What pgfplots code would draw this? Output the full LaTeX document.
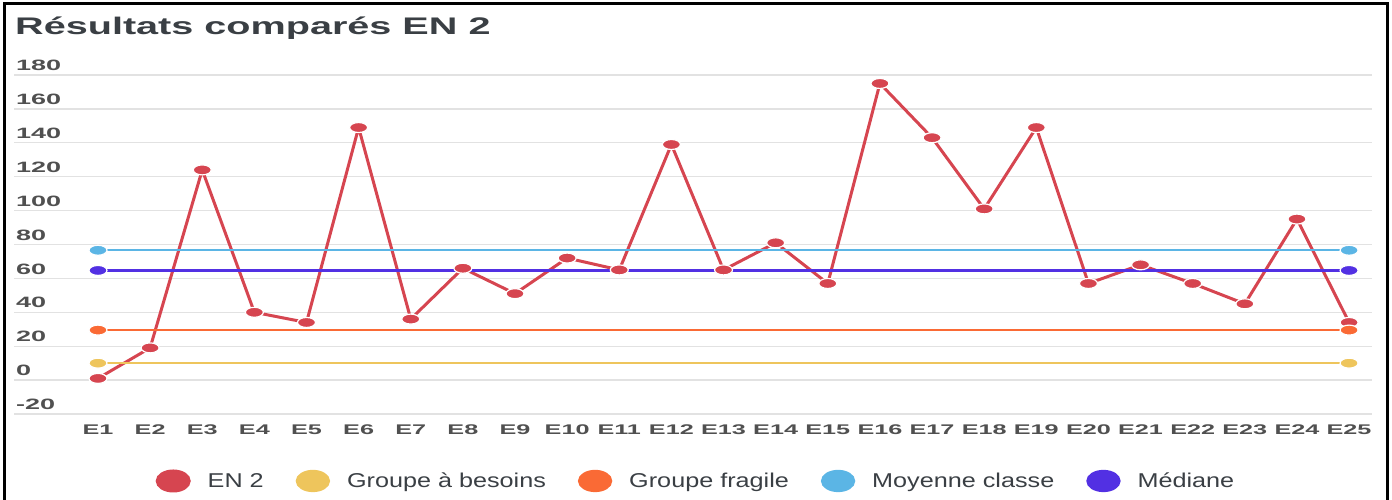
\documentclass[border=0pt]{standalone}
\usepackage{pgfplots}
\pgfplotsset{compat=1.18}
\usepackage{fontspec}
\setmainfont{Liberation Sans}
\newfontfamily\titlefont[FakeStretch=1.65]{Liberation Sans}
\newfontfamily\tickfont[FakeStretch=1.8]{Liberation Sans}
\newfontfamily\legfont[FakeStretch=1.26]{Liberation Sans}

\definecolor{cEN}{HTML}{D64550}
\definecolor{cBes}{HTML}{EEC55C}
\definecolor{cFra}{HTML}{FA6A35}
\definecolor{cMoy}{HTML}{5BB5E5}
\definecolor{cMed}{HTML}{5230E3}
\definecolor{txt}{HTML}{3A3F44}
\definecolor{tickc}{HTML}{505050}
\definecolor{gridc}{HTML}{E2E2E2}

\begin{document}
\begin{tikzpicture}[x=1bp,y=1bp]
\path[use as bounding box] (0,0) rectangle (1392,500);
\draw[line width=3bp] (4,0) -- (4,496) -- (1387,496) -- (1387,0);
\node[anchor=base west, inner sep=0, text=txt,
      font=\titlefont\bfseries\fontsize{24bp}{28bp}\selectfont] at (15,465) {Résultats comparés EN 2};
\begin{axis}[
    at={(14bp,86bp)}, anchor=south west,
    width=1358bp, height=339bp, scale only axis,
    xmin=-0.611, xmax=25.44,
    ymin=-20, ymax=180,
    xtick={1,...,25},
    xticklabels={E1,E2,E3,E4,E5,E6,E7,E8,E9,E10,E11,E12,E13,E14,E15,E16,E17,E18,E19,E20,E21,E22,E23,E24,E25},
    ytick={-20,0,20,40,60,80,100,120,140,160,180},
    yticklabels={-20,0,20,40,60,80,100,120,140,160,180},
    axis line style={draw=none},
    major tick length=0,
    ymajorgrids,
    grid style={line width=1.3bp, color=gridc},
    yticklabel style={anchor=south west, inner sep=0, xshift=2bp, yshift=4bp,
        text=tickc, font=\tickfont\bfseries\fontsize{15bp}{18bp}\selectfont},
    xticklabel style={anchor=north, inner sep=0, yshift=-11bp,
        text=tickc, font=\tickfont\bfseries\fontsize{14bp}{17bp}\selectfont},
    clip=false,
    legend columns=5,
    legend image code/.code={\fill (8bp,0bp) ellipse [x radius=16bp, y radius=10bp];
        \path (39bp,0bp);},
    legend style={draw=none, fill=none,
        at={(0.5022,-0.1976)}, anchor=center,
        font=\legfont\fontsize{20bp}{24bp}\selectfont, text=txt,
        /tikz/every even column/.append style={column sep=30bp}},
    mark options={xscale=1.8, draw=white, line width=1.2bp},
]
\addplot[color=cEN, line width=3bp, mark=*, mark size=5bp] coordinates {
    (1,1) (2,19) (3,124) (4,40) (5,34) (6,149) (7,36) (8,66) (9,51) (10,72)
    (11,65) (12,139) (13,65) (14,81) (15,57) (16,175) (17,143) (18,101) (19,149) (20,57)
    (21,68) (22,57) (23,45) (24,95) (25,34)
};
\addlegendentry{EN 2}
\addplot[color=cBes, line width=2.3bp, mark=*, mark size=5bp] coordinates {(1,10) (25,10)};
\addlegendentry{Groupe à besoins}
\addplot[color=cFra, line width=2.3bp, mark=*, mark size=5bp] coordinates {(1,29.5) (25,29.5)};
\addlegendentry{Groupe fragile}
\addplot[color=cMoy, line width=2.3bp, mark=*, mark size=5bp] coordinates {(1,76.6) (25,76.6)};
\addlegendentry{Moyenne classe}
\addplot[color=cMed, line width=2.3bp, mark=*, mark size=5bp] coordinates {(1,64.7) (25,64.7)};
\addlegendentry{Médiane}
\end{axis}
\end{tikzpicture}
\end{document}
